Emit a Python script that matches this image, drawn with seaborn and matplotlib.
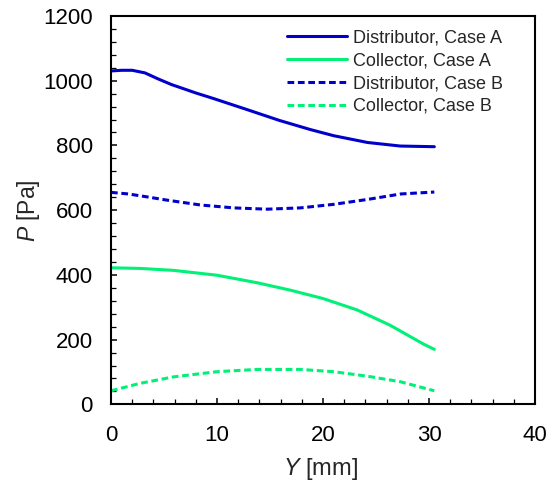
import matplotlib
matplotlib.use("Agg")
import matplotlib.pyplot as plt
import seaborn as sns
import pandas as pd
from matplotlib.ticker import MultipleLocator

sns.set_theme(style="ticks")
plt.rcParams['font.family'] = ['Liberation Sans', 'DejaVu Sans']
plt.rcParams['mathtext.fontset'] = 'custom'
plt.rcParams['mathtext.it'] = 'Liberation Sans:italic'
plt.rcParams['mathtext.rm'] = 'Liberation Sans'
plt.rcParams['lines.solid_joinstyle'] = 'round'
plt.rcParams['lines.dash_joinstyle'] = 'round'

ya_mm = [0, 1.0, 2.0, 3.2, 4.4, 5.7, 6.5, 8.0, 9.65, 12.8, 15.9, 18.8, 21.0, 24.2, 27.3, 30.5]
dist_a = [1030, 1032, 1032, 1024, 1006, 988, 979, 962, 945, 911, 877, 849, 830, 809, 798, 796]

yb_mm = [0, 1.64, 3.4, 5.27, 8.42, 11.57, 14.72, 17.87, 21.02, 24.18, 27.33, 30.5]
dist_b = [655, 650, 641, 631, 616, 607, 603, 607, 618, 633, 650, 656]

yc_mm = [0, 2.74, 5.9, 10, 13.75, 16.9, 20.0, 23.2, 26.3, 29.5, 30.5]
coll_a = [422, 420, 414, 399, 376, 353, 327, 292, 245, 186, 170]

yd_mm = [0, 2.74, 5.9, 10, 13.75, 16.9, 17.9, 21.0, 24.2, 27.3, 30.5]
coll_b = [42, 65, 85, 101, 108, 108, 108, 101, 87, 70, 42]

labels = ["Distributor, Case A", "Collector, Case A", "Distributor, Case B", "Collector, Case B"]
blue = "#0000CC"
green = "#00F078"

fig = plt.figure(figsize=(5.55, 4.82), dpi=100)
ax = fig.add_axes([0.2, 0.161, 0.764, 0.806])

dash = (0, (2.2, 1.2))
series = [
    (ya_mm, dist_a, labels[0], blue, "-"),
    (yc_mm, coll_a, labels[1], green, "-"),
    (yb_mm, dist_b, labels[2], blue, dash),
    (yd_mm, coll_b, labels[3], green, dash),
]
for xs, ys, lab, col, ls in series:
    df = pd.DataFrame({"Y": xs, "P": ys})
    sns.lineplot(data=df, x="Y", y="P", ax=ax, color=col, linewidth=2.2,
                 linestyle=ls, label=lab, sort=False, estimator=None)

ax.set_xlim(0, 40)
ax.set_ylim(0, 1200)
ax.xaxis.set_major_locator(MultipleLocator(10))
ax.xaxis.set_minor_locator(MultipleLocator(2))
ax.yaxis.set_major_locator(MultipleLocator(200))
ax.yaxis.set_minor_locator(MultipleLocator(40))
ax.tick_params(which="both", direction="in", top=False, right=False,
               labelsize=16, colors="black")
ax.tick_params(axis="x", which="both", pad=15)
ax.tick_params(axis="y", which="both", pad=13)
ax.tick_params(which="major", length=4.5, width=1.1)
ax.tick_params(which="minor", length=3.5, width=0.9)
for s in ax.spines.values():
    s.set_linewidth(1.5)
    s.set_color("black")

ax.set_xlabel("")
ax.set_ylabel("")
fig.text(0.578, 0.027, "$\\mathit{Y}$ [mm]", ha="center", va="center", fontsize=17)
fig.text(0.052, 0.564, "$\\mathit{P}$ [Pa]", ha="center", va="center", rotation=90,
         fontsize=16.5)

leg = ax.legend(loc="upper left", frameon=False, fontsize=13, handlelength=3.32,
                handletextpad=0.33, labelspacing=0.33, borderaxespad=0, borderpad=0,
                bbox_to_anchor=(0.415, 0.966))

fig.savefig("out.png", dpi=100)
